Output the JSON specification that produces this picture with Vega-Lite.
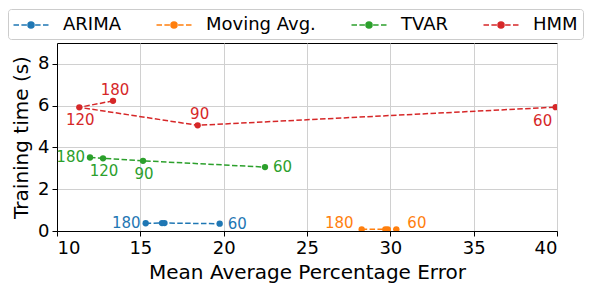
{
  "$schema": "https://vega.github.io/schema/vega-lite/v6.json",
  "width": 500,
  "height": 188,
  "autosize": "none",
  "padding": {"left": 57, "top": 43, "right": 41, "bottom": 57},
  "background": "white",
  "config": {
    "font": "DejaVu Sans",
    "view": {"stroke": "black", "strokeWidth": 1},
    "axis": {
      "labelFont": "DejaVu Sans",
      "labelFontSize": 18,
      "labelColor": "black",
      "titleFont": "DejaVu Sans",
      "titleFontSize": 20,
      "titleFontWeight": "normal",
      "titleColor": "black",
      "tickColor": "black",
      "tickSize": 5,
      "domainColor": "black",
      "gridColor": "#d0d0d0",
      "gridWidth": 1
    },
    "legend": {
      "labelFont": "DejaVu Sans",
      "labelFontSize": 18,
      "labelColor": "black"
    }
  },
  "data": {
    "values": [
      {"model": "ARIMA", "window": 180, "mape": 15.32, "time": 0.37, "label": "180"},
      {"model": "ARIMA", "window": 120, "mape": 16.3, "time": 0.38, "label": ""},
      {"model": "ARIMA", "window": 90, "mape": 16.45, "time": 0.38, "label": ""},
      {"model": "ARIMA", "window": 60, "mape": 19.76, "time": 0.35, "label": "60"},
      {"model": "Moving Avg.", "window": 180, "mape": 28.28, "time": 0.08, "label": "180"},
      {"model": "Moving Avg.", "window": 120, "mape": 29.7, "time": 0.08, "label": ""},
      {"model": "Moving Avg.", "window": 90, "mape": 29.85, "time": 0.08, "label": ""},
      {"model": "Moving Avg.", "window": 60, "mape": 30.36, "time": 0.08, "label": "60"},
      {"model": "TVAR", "window": 180, "mape": 11.98, "time": 3.52, "label": "180"},
      {"model": "TVAR", "window": 120, "mape": 12.76, "time": 3.48, "label": "120"},
      {"model": "TVAR", "window": 90, "mape": 15.16, "time": 3.36, "label": "90"},
      {"model": "TVAR", "window": 60, "mape": 22.48, "time": 3.06, "label": "60"},
      {"model": "HMM", "window": 180, "mape": 13.36, "time": 6.23, "label": "180"},
      {"model": "HMM", "window": 120, "mape": 11.34, "time": 5.92, "label": "120"},
      {"model": "HMM", "window": 90, "mape": 18.44, "time": 5.06, "label": "90"},
      {"model": "HMM", "window": 60, "mape": 39.92, "time": 5.93, "label": "60"}
    ]
  },
  "encoding": {
    "x": {
      "field": "mape",
      "type": "quantitative",
      "scale": {"domain": [10, 40], "nice": false, "zero": false},
      "axis": {"title": "Mean Average Percentage Error", "values": [10, 15, 20, 25, 30, 35, 40], "labelPadding": 3, "titlePadding": 5}
    },
    "y": {
      "field": "time",
      "type": "quantitative",
      "scale": {"domain": [0, 9], "nice": false},
      "axis": {"title": "Training time (s)", "values": [0, 2, 4, 6, 8], "labelPadding": 3, "titlePadding": 6}
    },
    "color": {
      "field": "model",
      "type": "nominal",
      "scale": {
        "domain": ["ARIMA", "Moving Avg.", "TVAR", "HMM"],
        "range": ["#1f77b4", "#ff7f0e", "#2ca02c", "#d62728"]
      },
      "legend": {
        "title": null,
        "orient": "none",
        "legendX": -49,
        "legendY": -34,
        "direction": "horizontal",
        "columns": 4,
        "symbolType": "M-1.75,0H-1.2 M-0.96,0H-0.41 M0.41,0H0.96 M1.2,0H1.75 M-0.3,0A0.3,0.3,0,1,1,0.3,0A0.3,0.3,0,1,1,-0.3,0Z",
        "symbolSize": 400,
        "symbolStrokeWidth": 1.5,
        "symbolOffset": 7,
        "labelOffset": 21,
        "columnPadding": 32,
        "padding": 5,
        "strokeColor": "#cccccc",
        "fillColor": "white",
        "cornerRadius": 3,
        "encode": {
          "symbols": {
            "update": {
              "fill": {"scale": "color", "field": "value"},
              "stroke": {"scale": "color", "field": "value"},
              "strokeWidth": {"value": 1.5},
              "opacity": {"value": 1}
            }
          }
        }
      }
    }
  },
  "layer": [
    {
      "mark": {"type": "line", "strokeDash": [5.5, 2.4], "strokeWidth": 1.5, "clip": true},
      "encoding": {"order": {"field": "window", "sort": "descending"}}
    },
    {
      "mark": {"type": "point", "filled": true, "size": 40, "opacity": 1, "clip": true}
    },
    {
      "transform": [{"filter": "(datum.model == 'ARIMA' || datum.model == 'TVAR') && datum.window == 180"}],
      "mark": {"type": "text", "fontSize": 15, "align": "right", "baseline": "middle", "dx": -5},
      "encoding": {"text": {"field": "label"}}
    },
    {
      "transform": [{"filter": "datum.model == 'Moving Avg.' && datum.window == 180"}],
      "mark": {"type": "text", "fontSize": 15, "align": "right", "baseline": "middle", "dx": -8, "dy": -6},
      "encoding": {"text": {"field": "label"}}
    },
    {
      "transform": [{"filter": "(datum.model == 'ARIMA' || datum.model == 'TVAR') && datum.window == 60"}],
      "mark": {"type": "text", "fontSize": 15, "align": "left", "baseline": "middle", "dx": 8},
      "encoding": {"text": {"field": "label"}}
    },
    {
      "transform": [{"filter": "datum.model == 'Moving Avg.' && datum.window == 60"}],
      "mark": {"type": "text", "fontSize": 15, "align": "left", "baseline": "middle", "dx": 11, "dy": -6},
      "encoding": {"text": {"field": "label"}}
    },
    {
      "transform": [{"filter": "datum.model == 'HMM' && (datum.window == 180 || datum.window == 90)"}],
      "mark": {"type": "text", "fontSize": 15, "align": "center", "baseline": "middle", "dx": 2, "dy": -11},
      "encoding": {"text": {"field": "label"}}
    },
    {
      "transform": [{"filter": "(datum.model == 'HMM' && datum.window == 120) || (datum.model == 'TVAR' && (datum.window == 120 || datum.window == 90))"}],
      "mark": {"type": "text", "fontSize": 15, "align": "center", "baseline": "middle", "dx": 1, "dy": 13},
      "encoding": {"text": {"field": "label"}}
    },
    {
      "transform": [{"filter": "datum.model == 'HMM' && datum.window == 60"}],
      "mark": {"type": "text", "fontSize": 15, "align": "center", "baseline": "middle", "dx": -13, "dy": 14},
      "encoding": {"text": {"field": "label"}}
    }
  ]
}
